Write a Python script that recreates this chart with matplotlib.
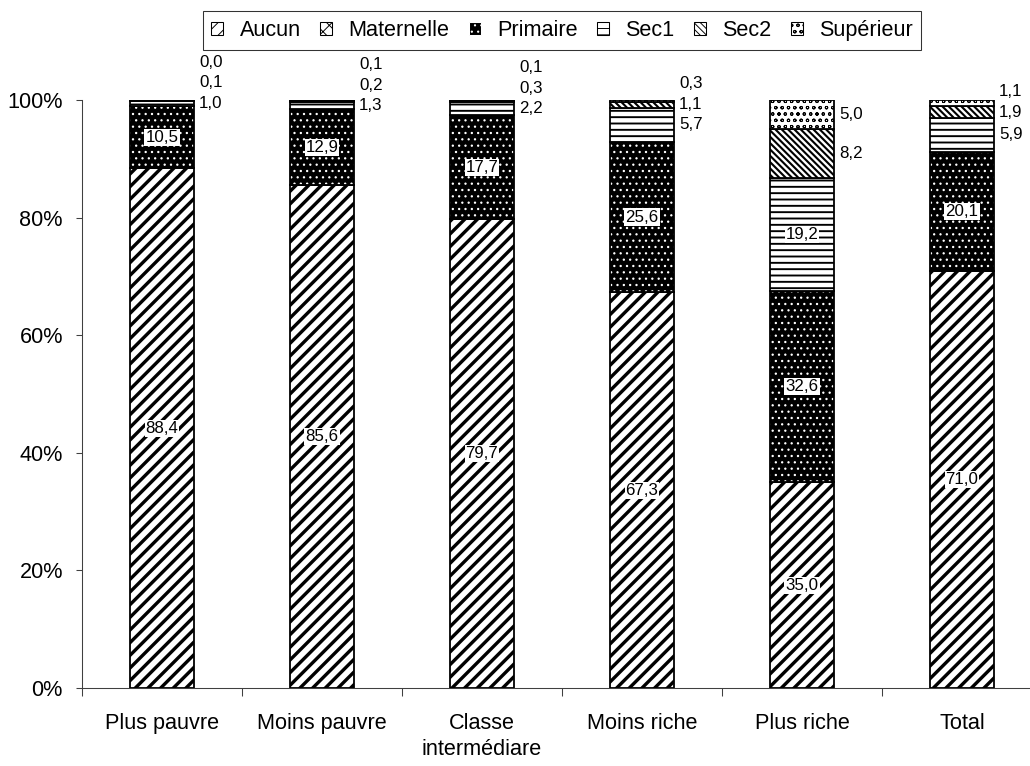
import matplotlib
matplotlib.use('Agg')
import matplotlib.pyplot as plt
from matplotlib.patches import Patch

# categories and shares (%) by level of education
categories = ['Plus pauvre', 'Moins pauvre', 'Classe\nintermédiare', 'Moins riche', 'Plus riche', 'Total']
series = ['Aucun', 'Maternelle', 'Primaire', 'Sec1', 'Sec2', 'Supérieur']
aucun = [88.4, 85.6, 79.7, 67.3, 35.0, 71.0]
maternelle = [0.0, 0.0, 0.0, 0.0, 0.0, 0.0]
primaire = [10.5, 12.9, 17.7, 25.6, 32.6, 20.1]
sec1 = [1.0, 1.3, 2.2, 5.7, 19.2, 5.9]
sec2 = [0.1, 0.2, 0.3, 1.1, 8.2, 1.9]
superieur = [0.0, 0.1, 0.1, 0.3, 5.0, 1.1]
values = [aucun, maternelle, primaire, sec1, sec2, superieur]
labelled = [True, False, True, True, True, True]

# face, hatch, hatch colour, hatch linewidth
styles = [
    ('white', '//', 'black', 3.2),
    ('white', 'xx', 'black', 1.0),
    ('black', '..', 'white', 1.0),
    ('white', '--', 'black', 1.8),
    ('white', '\\\\\\\\', 'black', 2.0),
    ('white', 'oo', 'black', 0.9),
]

DPI = 76
plt.rcParams['font.family'] = ['Liberation Sans', 'DejaVu Sans']
fig = plt.figure(figsize=(1030 / DPI, 766 / DPI), dpi=DPI)
ax = fig.add_axes([82 / 1030, 1 - 688 / 766, 960 / 1030, 588 / 766])

x = list(range(len(categories)))
totals = [sum(v[i] for v in values) for i in x]
width = 0.4
bottoms = [0.0] * len(x)
segments = []  # (series idx, cat idx, bottom, height)
for s, vals in enumerate(values):
    face, hatch, hcol, hlw = styles[s]
    heights = [vals[i] / totals[i] * 100 for i in x]
    plt.rcParams['hatch.linewidth'] = hlw
    bars = ax.bar(x, heights, width, bottom=bottoms, color=face, hatch=hatch,
                  edgecolor=hcol, linewidth=0)
    for b in bars:
        if hasattr(b, 'set_hatch_linewidth'):
            b.set_hatch_linewidth(hlw)
    ax.bar(x, heights, width, bottom=bottoms, fill=False, edgecolor='black', linewidth=1.7)
    for i in x:
        segments.append((s, i, bottoms[i], heights[i]))
    bottoms = [bottoms[i] + heights[i] for i in x]

# data labels: big ones centred, small ones stacked to the right of the bar
gap = 3.5
for i in x:
    outside = []
    for s, c, b, h in segments:
        if c != i or not labelled[s]:
            continue
        v = values[s][i]
        txt = f'{v:.1f}'.replace('.', ',')
        if v >= 10:
            ax.text(i, b + h / 2, txt, ha='center', va='center', fontsize=16,
                    bbox=dict(facecolor='white', edgecolor='none', pad=1))
        else:
            outside.append((b + h / 2, txt))
    prev = None
    for yc, txt in outside:
        y = yc if prev is None else max(yc, prev + gap)
        prev = y
        ax.annotate(txt, (i + width / 2, y), xytext=(5, 0), textcoords='offset pixels',
                    ha='left', va='center', fontsize=16, annotation_clip=False,
                    bbox=dict(facecolor='white', edgecolor='none', pad=0.5))

ax.set_xlim(-0.5, len(categories) - 0.5)
ax.set_ylim(0, 100)
ax.set_yticks([0, 20, 40, 60, 80, 100])
ax.set_yticklabels([f'{t}%' for t in [0, 20, 40, 60, 80, 100]])
ax.set_xticks(x)
ax.set_xticklabels(categories, linespacing=1.3)
ax.set_xticks([i - 0.5 for i in range(len(categories) + 1)], minor=True)
ax.tick_params(axis='x', which='major', length=0, pad=24, labelsize=20.5)
ax.tick_params(axis='x', which='minor', length=8, width=1, color='#404040')
ax.tick_params(axis='y', length=6, width=1, pad=12, labelsize=20.5, color='#404040')
for sp in ['top', 'right']:
    ax.spines[sp].set_visible(False)
for sp in ['left', 'bottom']:
    ax.spines[sp].set_color('#404040')
    ax.spines[sp].set_linewidth(1)

handles = []
for s in range(len(series)):
    face, hatch, hcol, hlw = styles[s]
    handles.append(Patch(facecolor=face, hatch=hatch, edgecolor='black' if face == 'white' else hcol,
                         linewidth=1))
leg = ax.legend(handles, series, loc='upper center', bbox_to_anchor=(0.5, 1.151), ncol=6,
                fontsize=20.5, frameon=True, fancybox=False, handlelength=0.55, handleheight=0.55,
                handletextpad=0.75, columnspacing=0.9, borderpad=0.4, borderaxespad=0)
leg.get_frame().set_edgecolor('black')
leg.get_frame().set_linewidth(1)

fig.savefig('out.png', dpi=DPI)
